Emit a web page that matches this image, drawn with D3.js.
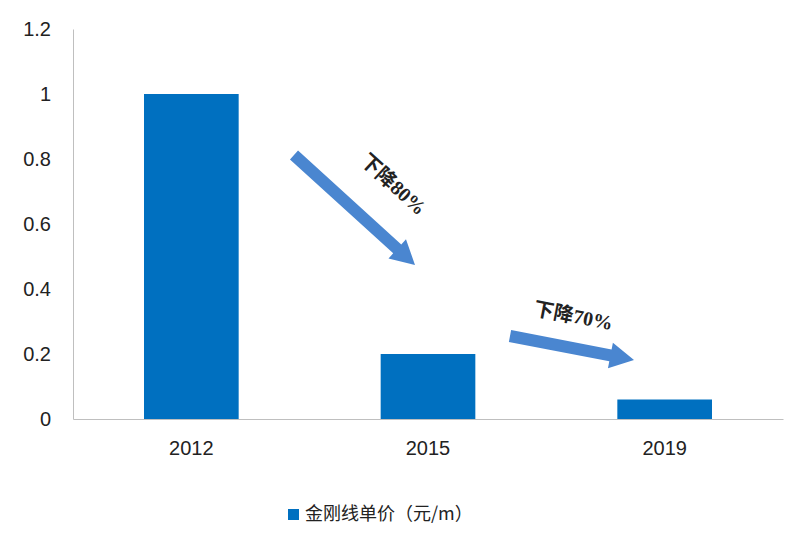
<!DOCTYPE html>
<html><head><meta charset="utf-8">
<script src="https://cdn.jsdelivr.net/npm/d3@7"></script>
<style>body{margin:0;background:#fff}</style></head>
<body><svg id="c" width="794" height="548"></svg>
<script>
const categories = ["2012","2015","2019"];
const values = [1, 0.2, 0.06];
const yTicks = [0,0.2,0.4,0.6,0.8,1,1.2];
const tickLabels = ["0","0.2","0.4","0.6","0.8","1","1.2"];
const seriesName = "金刚线单价（元/m）";
const notes = [
  {text:"下降80%", from:[294,155], to:[415,265], label:[392,186]},
  {text:"下降70%", from:[510,336], to:[634,360], label:[573,318]}
];
const svg = d3.select("#c");
const x = d3.scaleBand().domain(categories).range([73,783]).paddingInner(0.6).paddingOuter(0.3);
const y = d3.scaleLinear().domain([0,1.2]).range([419,29]);
const font = "'Liberation Sans', Arial, sans-serif";
// y axis
const ya = svg.append("g").attr("transform","translate(73,0)").call(d3.axisLeft(y).tickValues(yTicks).tickFormat((d,i)=>tickLabels[i]).tickSize(0).tickPadding(22));
ya.select(".domain").attr("stroke","#bfbfbf");
ya.selectAll("text").attr("font-family",font).attr("font-size",20).attr("fill","#222");
// x axis
const xa = svg.append("g").attr("transform","translate(0,419)").call(d3.axisBottom(x).tickSize(0).tickPadding(22));
xa.select(".domain").attr("stroke","#bfbfbf");
xa.selectAll("text").attr("font-family",font).attr("font-size",20).attr("fill","#222");
// bars
svg.selectAll("rect.bar").data(values).enter().append("rect").attr("class","bar")
  .attr("x",(d,i)=>x(categories[i])).attr("width",x.bandwidth())
  .attr("y",d=>y(d)).attr("height",d=>y(0)-y(d)).attr("fill","#0070c0");
// arrows
notes.forEach(n=>{
  const dx=n.to[0]-n.from[0], dy=n.to[1]-n.from[1];
  const L=Math.hypot(dx,dy), ang=Math.atan2(dy,dx)*180/Math.PI;
  const hw=6, hh=13, hl=24;
  svg.append("path").attr("transform",`translate(${n.from[0]},${n.from[1]}) rotate(${ang})`)
    .attr("d",`M0,${-hw}L${L-hl},${-hw}L${L-hl},${-hh}L${L},0L${L-hl},${hh}L${L-hl},${hw}L0,${hw}Z`)
    .attr("fill","#4a86d0");
  svg.append("text").attr("transform",`translate(${n.label[0]},${n.label[1]}) rotate(${ang})`)
    .attr("text-anchor","middle").attr("dominant-baseline","middle")
    .attr("font-family","'Liberation Serif','Noto Sans CJK SC',serif").attr("font-weight","bold")
    .attr("font-size",20).attr("fill","#222").text(n.text);
});
// legend
svg.append("rect").attr("x",288).attr("y",509).attr("width",11).attr("height",11).attr("fill","#0070c0");
svg.append("text").attr("x",305).attr("y",520).attr("font-family","'Noto Sans CJK SC',sans-serif")
  .attr("font-size",18).attr("fill","#222").text(seriesName);
</script></body></html>
